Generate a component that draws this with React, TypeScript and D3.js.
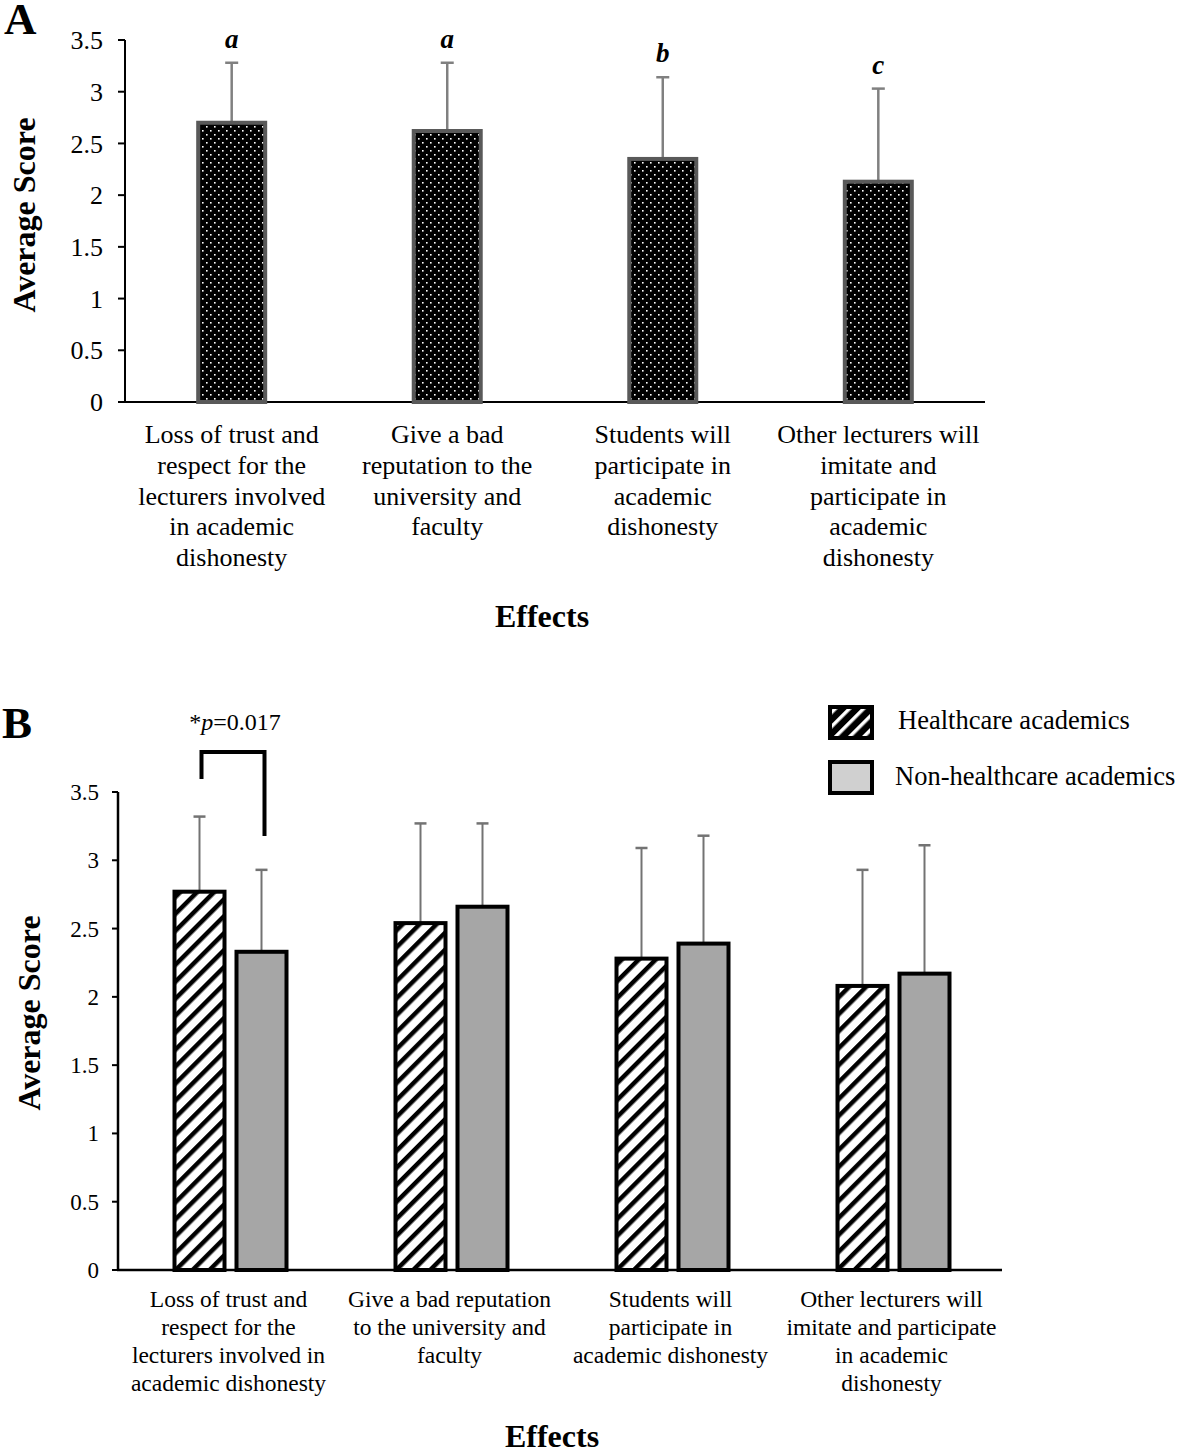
import React from "react";
import * as d3 from "d3";

const categoriesA = [
  ["Loss of trust and", "respect for the", "lecturers involved", "in academic", "dishonesty"],
  ["Give a bad", "reputation to the", "university and", "faculty"],
  ["Students will", "participate in", "academic", "dishonesty"],
  ["Other lecturers will", "imitate and", "participate in", "academic", "dishonesty"],
];
const meansA = [2.7, 2.62, 2.35, 2.13];
const errTopA = [3.28, 3.28, 3.14, 3.03];
const lettersA = ["a", "a", "b", "c"];

const categoriesB = [
  ["Loss of trust and", "respect for the", "lecturers involved in", "academic dishonesty"],
  ["Give a bad reputation", "to the university and", "faculty"],
  ["Students will", "participate in", "academic dishonesty"],
  ["Other lecturers will", "imitate and participate", "in academic", "dishonesty"],
];
const seriesNames = ["Healthcare academics", "Non-healthcare academics"];
const healthcare = [2.77, 2.54, 2.28, 2.08];
const healthcareErrTop = [3.32, 3.27, 3.09, 2.93];
const nonHealthcare = [2.33, 2.66, 2.39, 2.17];
const nonHealthcareErrTop = [2.93, 3.27, 3.18, 3.11];
const yTicks = [0, 0.5, 1, 1.5, 2, 2.5, 3, 3.5];
const pLabel = "=0.017";

const FONT = "'Liberation Serif', 'Times New Roman', serif";

export default function App() {
  // Panel A scales
  const yA = d3.scaleLinear().domain([0, 3.5]).range([402, 40]);
  const xA = d3.scaleBand<number>().domain([0, 1, 2, 3]).range([125, 985]).paddingInner(0.69).paddingOuter(0.34);
  const bwA = 67;
  // Panel B scales
  const yB = d3.scaleLinear().domain([0, 3.5]).range([1270, 792]);
  const xB = d3.scaleBand<number>().domain([0, 1, 2, 3]).range([118, 1002]);
  const bwB = 50;
  const gapB = 12;

  const bxB = (i: number, s: number) => {
    const c = (xB(i) as number) + xB.bandwidth() / 2 + 2;
    return s === 0 ? c - gapB / 2 - bwB : c + gapB / 2;
  };

  return (
    <svg width={1179} height={1448} style={{ display: "block", position: "absolute", left: 0, top: 0 }} fontFamily={FONT}>
      <defs>
        <pattern id="dots" width="8" height="8" patternUnits="userSpaceOnUse">
          <rect width="8" height="8" fill="#000" />
          <rect x="2" y="2" width="1.6" height="1.6" fill="#fff" />
          <rect x="6" y="6" width="1.6" height="1.6" fill="#fff" />
        </pattern>
        <pattern id="hatch" width="12" height="12" patternUnits="userSpaceOnUse" patternTransform="rotate(45)">
          <rect width="12" height="12" fill="#fff" />
          <rect x="0" y="0" width="4.5" height="12" fill="#000" />
        </pattern>
        <pattern id="hatchLegend" width="10" height="10" patternUnits="userSpaceOnUse" patternTransform="rotate(45)">
          <rect width="10" height="10" fill="#000" />
          <rect x="0" y="0" width="3.5" height="10" fill="#fff" />
        </pattern>
      </defs>
      <rect width={1179} height={1448} fill="#fff" />

      {/* ===== Panel A ===== */}
      <text x={4} y={34} fontSize={45} fontWeight="bold">A</text>
      {yTicks.map((t) => (
        <g key={"ya" + t}>
          <line x1={118} x2={125} y1={yA(t)} y2={yA(t)} stroke="#000" strokeWidth={2} />
          <text x={103} y={yA(t)} dy="0.35em" textAnchor="end" fontSize={26}>{t}</text>
        </g>
      ))}
      <line x1={125} x2={125} y1={yA(3.5)} y2={yA(0)} stroke="#000" strokeWidth={2} />
      <line x1={124} x2={985} y1={yA(0)} y2={yA(0)} stroke="#000" strokeWidth={2} />
      {meansA.map((v, i) => {
        const c = (xA(i) as number) + xA.bandwidth() / 2;
        return (
          <g key={"ba" + i}>
            <line x1={c} x2={c} y1={yA(v)} y2={yA(errTopA[i])} stroke="#808080" strokeWidth={2.5} />
            <line x1={c - 6.5} x2={c + 6.5} y1={yA(errTopA[i])} y2={yA(errTopA[i])} stroke="#808080" strokeWidth={2.5} />
            <rect x={c - bwA / 2} y={yA(v)} width={bwA} height={yA(0) - yA(v)} fill="url(#dots)" stroke="#595959" strokeWidth={4} />
            <text x={c} y={yA(errTopA[i]) - 15} textAnchor="middle" fontSize={27} fontWeight="bold" fontStyle="italic">{lettersA[i]}</text>
            {categoriesA[i].map((ln, k) => (
              <text key={k} x={c} y={443 + k * 30.8} textAnchor="middle" fontSize={26}>{ln}</text>
            ))}
          </g>
        );
      })}
      <text transform={`translate(35,215) rotate(-90)`} textAnchor="middle" fontSize={32} fontWeight="bold">Average Score</text>
      <text x={542} y={627} textAnchor="middle" fontSize={32} fontWeight="bold">Effects</text>

      {/* ===== Panel B ===== */}
      <text x={2} y={738} fontSize={45} fontWeight="bold">B</text>
      {yTicks.map((t) => (
        <g key={"yb" + t}>
          <line x1={112} x2={118} y1={yB(t)} y2={yB(t)} stroke="#000" strokeWidth={2} />
          <text x={99} y={yB(t)} dy="0.35em" textAnchor="end" fontSize={23}>{t}</text>
        </g>
      ))}
      <line x1={118} x2={118} y1={yB(3.5)} y2={yB(0)} stroke="#000" strokeWidth={2.5} />
      <line x1={117} x2={1002} y1={yB(0)} y2={yB(0)} stroke="#000" strokeWidth={2.5} />
      {[healthcare, nonHealthcare].map((series, s) =>
        series.map((v, i) => {
          const x = bxB(i, s);
          const c = x + bwB / 2;
          const et = s === 0 ? healthcareErrTop[i] : nonHealthcareErrTop[i];
          return (
            <g key={"bb" + s + i}>
              <line x1={c} x2={c} y1={yB(v)} y2={yB(et)} stroke="#737373" strokeWidth={2} />
              <line x1={c - 6} x2={c + 6} y1={yB(et)} y2={yB(et)} stroke="#737373" strokeWidth={2.5} />
              <rect x={x} y={yB(v)} width={bwB} height={yB(0) - yB(v)} fill={s === 0 ? "url(#hatch)" : "#a6a6a6"} stroke="#000" strokeWidth={4} />
            </g>
          );
        })
      )}
      {categoriesB.map((lines, i) => {
        const c = (xB(i) as number) + xB.bandwidth() / 2;
        return lines.map((ln, k) => (
          <text key={"cb" + i + k} x={c} y={1307 + k * 28} textAnchor="middle" fontSize={23.5}>{ln}</text>
        ));
      })}
      <text transform={`translate(40,1013) rotate(-90)`} textAnchor="middle" fontSize={32} fontWeight="bold">Average Score</text>
      <text x={552} y={1447} textAnchor="middle" fontSize={32} fontWeight="bold">Effects</text>

      {/* significance bracket */}
      <path d={`M${bxB(0, 0) + bwB / 2 + 2},779 V752 H${bxB(0, 1) + bwB / 2 + 3} V836`} fill="none" stroke="#000" strokeWidth={4} />
      <text x={235} y={730} textAnchor="middle" fontSize={24}>
        <tspan>*</tspan><tspan fontStyle="italic">p</tspan><tspan>{pLabel}</tspan>
      </text>

      {/* legend */}
      <rect x={830} y={707} width={42} height={31} fill="url(#hatchLegend)" stroke="#000" strokeWidth={4} />
      <text x={898} y={729} fontSize={26.5}>{seriesNames[0]}</text>
      <rect x={830} y={762} width={42} height={31} fill="#d0d0d0" stroke="#000" strokeWidth={4} />
      <text x={895} y={785} fontSize={26.5}>{seriesNames[1]}</text>
    </svg>
  );
}
